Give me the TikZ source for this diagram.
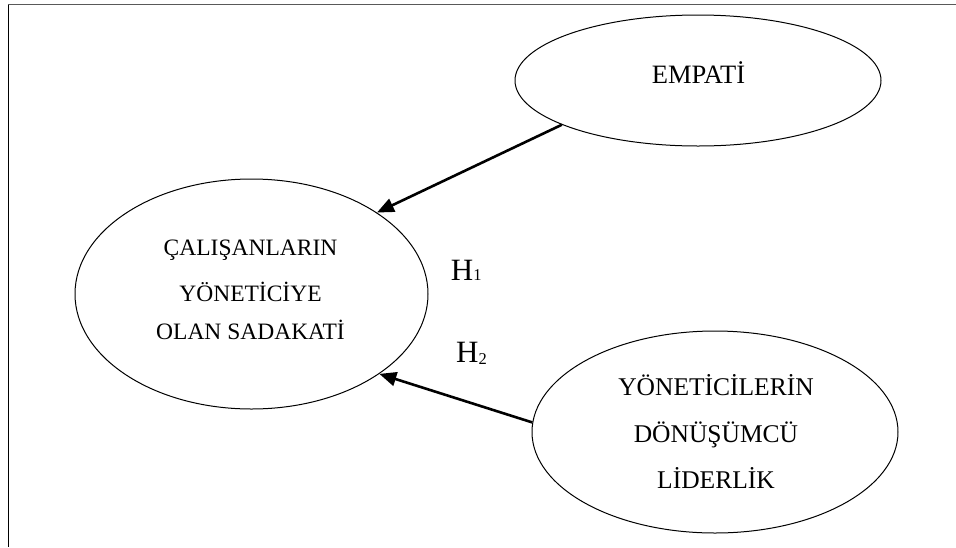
\documentclass[tikz,border=0pt]{standalone}
\usepackage{fontspec}
\setmainfont{Liberation Serif}
\usetikzlibrary{shapes.geometric,arrows.meta}
\begin{document}
\begin{tikzpicture}[x=1pt,y=-1pt,
  bubble/.style={draw=black,line width=1pt,ellipse,inner sep=0pt},
  link/.style={draw=black,line width=2.6pt,-{Triangle[length=17pt,width=14pt]}},
  words/.style={anchor=base,inner sep=0pt},
  hyp/.style={anchor=base west,inner sep=0pt,font=\fontsize{31}{31}\selectfont}]
\useasboundingbox (0,0) rectangle (956,547);
% frame
\draw[gray!70!black,line width=1.3pt] (8.3,4.5) -- (956,4.5);
\draw[black,line width=1.3pt] (8.3,4.5) -- (8.3,547);
% constructs
\node[bubble,minimum width=353pt,minimum height=230pt] (sadakat) at (251.5,294) {};
\node[bubble,minimum width=366pt,minimum height=131pt] (empati) at (698,80.5) {};
\node[bubble,minimum width=366pt,minimum height=202pt] (liderlik) at (715,432) {};
% texts
\begin{scope}[font=\fontsize{23.5}{23.5}\selectfont]
\node[words] (s1) at (250.5,255) {ÇALIŞANLARIN};
\node[words] (s2) at (250.5,301.5) {YÖNETİCİYE};
\node[words] (s3) at (250.5,339.5) {OLAN SADAKATİ};
\end{scope}
\node[words,font=\fontsize{26.5}{26.5}\selectfont] (e1) at (698.5,83.3) {EMPATİ};
\begin{scope}[font=\fontsize{25.5}{25.5}\selectfont]
\node[words] (l1) at (716,395) {YÖNETİCİLERİN};
\node[words] (l2) at (716,442.7) {DÖNÜŞÜMCÜ};
\node[words] (l3) at (716,488) {LİDERLİK};
\end{scope}
% hypotheses
\node[hyp] (h1) at (450.7,280) {H\fontsize{16.5}{16.5}\selectfont 1};
\node[hyp] (h2) at (456,362.7) {H\raisebox{-1.5pt}{\fontsize{16.5}{16.5}\selectfont 2}};
% paths
\draw[link] (empati.198.4) -- (sadakat.33.2);
\draw[link] (liderlik.177.2) -- (sadakat.-32.8);
\end{tikzpicture}
\end{document}
